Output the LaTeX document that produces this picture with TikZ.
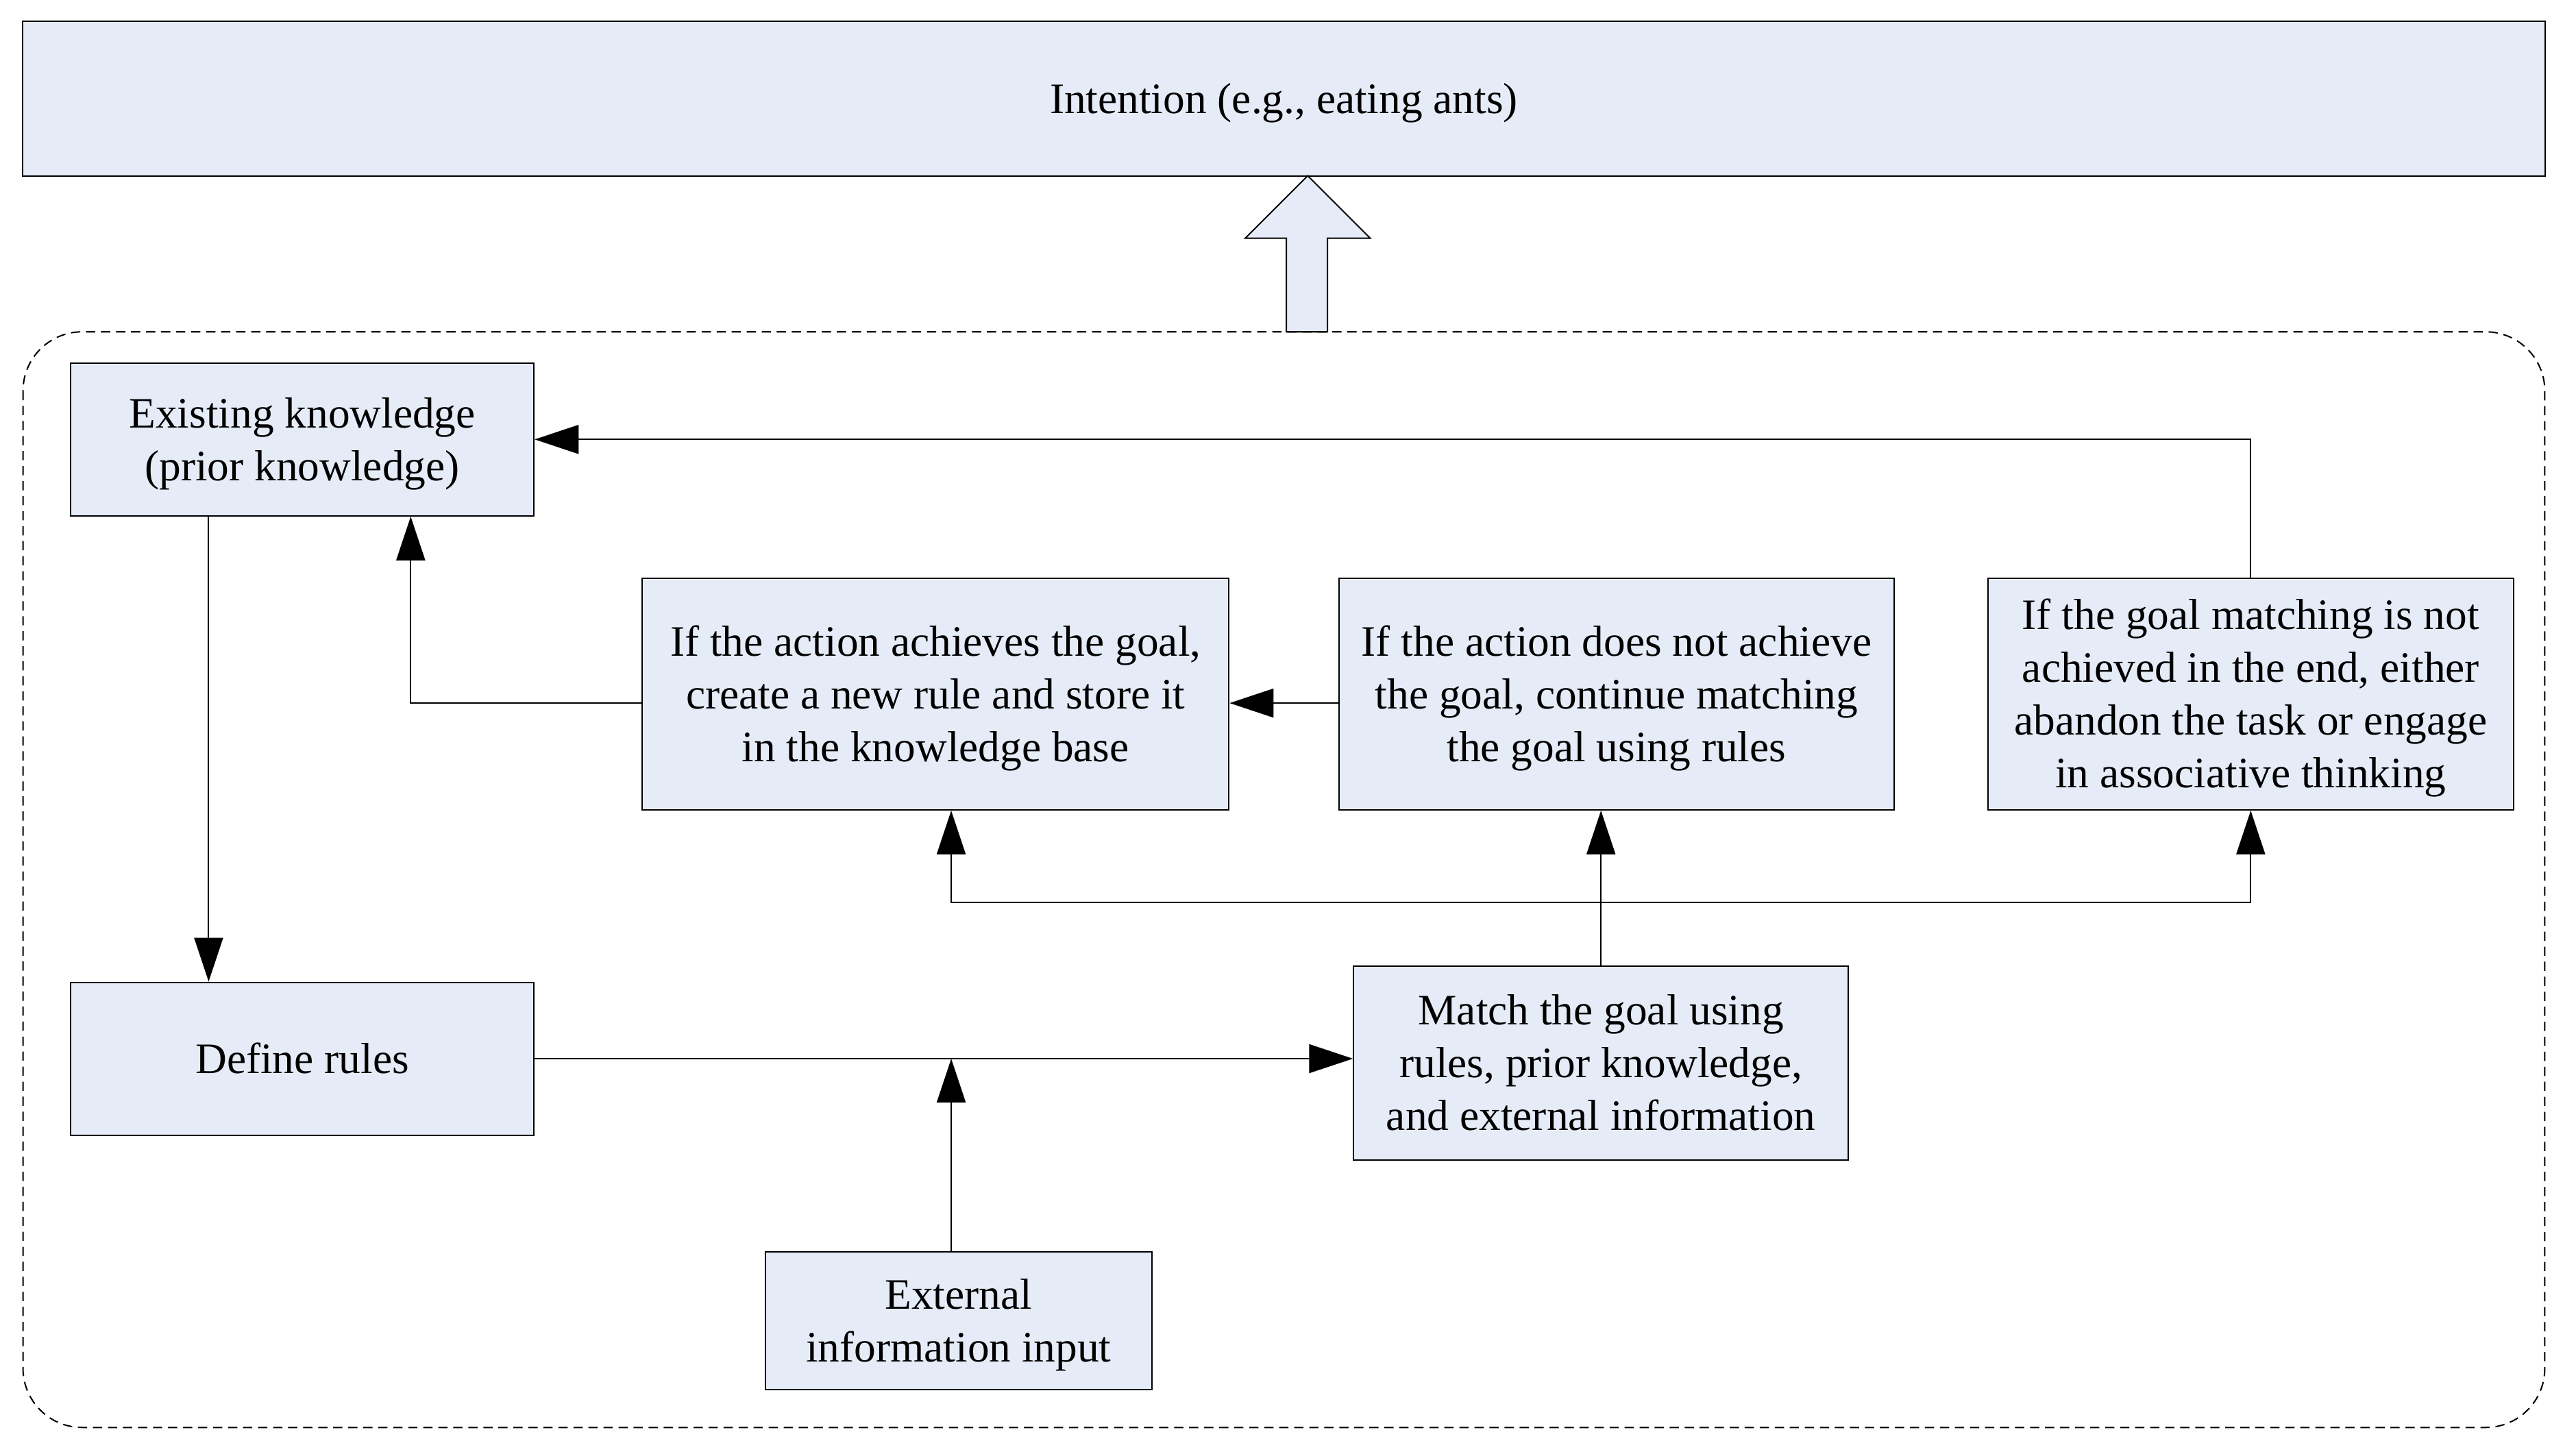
\documentclass[tikz,border=0pt]{standalone}
\usepackage{fontspec}
\setmainfont{Liberation Serif}
\usetikzlibrary{arrows.meta,calc}
\definecolor{boxfill}{RGB}{230,236,247}
\newcommand{\tstrut}{\rule{0pt}{16.8pt}}
\tikzset{
  box/.style={draw, line width=0.6pt, fill=boxfill, align=center, inner sep=0pt,
    text depth=4.1pt, font=\fontsize{18.8}{22.8}\selectfont},
  arr/.style={line width=0.6pt, -{Triangle[length=19pt,width=12.5pt]}},
  line/.style={line width=0.6pt}
}
\begin{document}
\begin{tikzpicture}[x=0.025cm,y=-0.025cm]
    \useasboundingbox (0,0) rectangle (1568,885);
    \node[box, minimum width=38.375cm, minimum height=2.35cm] (intent) at (781.5,60) {\tstrut Intention (e.g., eating ants)};
    % flecha grande hacia la intencion
    \draw[line, fill=boxfill] (783,202) -- (783,145) -- (758,145) -- (796,107) -- (834,145) -- (808,145) -- (808,202) -- cycle;
    \draw[line, dash pattern=on 4pt off 2.5pt, rounded corners=0.9cm] (14,202) rectangle (1549,869);
    \node[box, minimum width=7.05cm, minimum height=2.325cm] (ek) at (184,267.5) {\tstrut Existing knowledge\\(prior knowledge)};
    \node[box, minimum width=7.05cm, minimum height=2.325cm] (dr) at (184,644.5) {\tstrut Define rules};
    \node[box, minimum width=8.925cm, minimum height=3.525cm] (ach) at (569.5,422.5) {\tstrut If the action achieves the goal,\\create a new rule and store it\\in the knowledge base};
    \node[box, minimum width=8.45cm, minimum height=3.525cm] (nach) at (984,422.5) {\tstrut If the action does not achieve\\the goal, continue matching\\the goal using rules};
    \node[box, minimum width=8.0cm, minimum height=3.525cm] (abd) at (1370,422.5) {\tstrut If the goal matching is not\\achieved in the end, either\\abandon the task or engage\\in associative thinking};
    \node[box, minimum width=7.525cm, minimum height=2.95cm] (mat) at (974.5,647) {\tstrut Match the goal using\\rules, prior knowledge,\\and external information};
    \node[box, minimum width=5.875cm, minimum height=2.1cm] (ext) at (583.5,804) {\tstrut External\\information input};
    \coordinate (split) at ($(mat.north)+(0,-38)$);
    \coordinate (extin) at ($(ext.north)+(-4.5,0)$);
    \coordinate (achout) at ($(ach.west)+(0,5.5)$);
    \coordinate (nachout) at ($(nach.west)+(0,5.5)$);
    \draw[arr] ($(ek.south)+(-57,0)$) -- ($(dr.north)+(-57,0)$);
    \draw[arr] (achout) -| ($(ek.south)+(66,0)$);
    \draw[arr] (nachout) -- (nachout -| ach.east);
    \draw[arr] (abd.north) |- (ek.east);
    \draw[line] (mat.north) -- (split);
    \draw[arr] (split) -- (split |- nach.south);
    \draw[arr] (split) -| ($(ach.south)+(9.5,0)$);
    \draw[arr] (split) -| (abd.south);
    \draw[arr] (dr.east) -- (dr.east -| mat.west);
    \draw[arr] (extin) -- (extin |- dr.east);
\end{tikzpicture}
\end{document}
